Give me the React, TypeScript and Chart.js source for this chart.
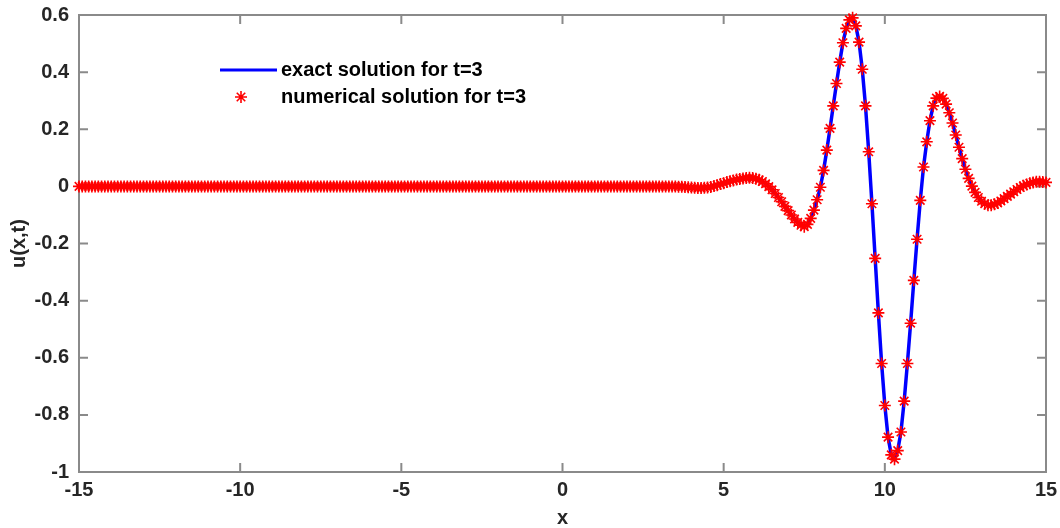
import { useEffect, useRef } from 'react';
import { Chart, registerables } from 'chart.js';

Chart.register(...registerables);

// sample positions x
const xValues = [
  -15, -14.9, -14.8, -14.7, -14.6, -14.5, -14.4, -14.3, -14.2, -14.1,
  -14, -13.9, -13.8, -13.7, -13.6, -13.5, -13.4, -13.3, -13.2, -13.1,
  -13, -12.9, -12.8, -12.7, -12.6, -12.5, -12.4, -12.3, -12.2, -12.1,
  -12, -11.9, -11.8, -11.7, -11.6, -11.5, -11.4, -11.3, -11.2, -11.1,
  -11, -10.9, -10.8, -10.7, -10.6, -10.5, -10.4, -10.3, -10.2, -10.1,
  -10, -9.9, -9.8, -9.7, -9.6, -9.5, -9.4, -9.3, -9.2, -9.1,
  -9, -8.9, -8.8, -8.7, -8.6, -8.5, -8.4, -8.3, -8.2, -8.1,
  -8, -7.9, -7.8, -7.7, -7.6, -7.5, -7.4, -7.3, -7.2, -7.1,
  -7, -6.9, -6.8, -6.7, -6.6, -6.5, -6.4, -6.3, -6.2, -6.1,
  -6, -5.9, -5.8, -5.7, -5.6, -5.5, -5.4, -5.3, -5.2, -5.1,
  -5, -4.9, -4.8, -4.7, -4.6, -4.5, -4.4, -4.3, -4.2, -4.1,
  -4, -3.9, -3.8, -3.7, -3.6, -3.5, -3.4, -3.3, -3.2, -3.1,
  -3, -2.9, -2.8, -2.7, -2.6, -2.5, -2.4, -2.3, -2.2, -2.1,
  -2, -1.9, -1.8, -1.7, -1.6, -1.5, -1.4, -1.3, -1.2, -1.1,
  -1, -0.9, -0.8, -0.7, -0.6, -0.5, -0.4, -0.3, -0.2, -0.1,
  0, 0.1, 0.2, 0.3, 0.4, 0.5, 0.6, 0.7, 0.8, 0.9,
  1, 1.1, 1.2, 1.3, 1.4, 1.5, 1.6, 1.7, 1.8, 1.9,
  2, 2.1, 2.2, 2.3, 2.4, 2.5, 2.6, 2.7, 2.8, 2.9,
  3, 3.1, 3.2, 3.3, 3.4, 3.5, 3.6, 3.7, 3.8, 3.9,
  4, 4.1, 4.2, 4.3, 4.4, 4.5, 4.6, 4.7, 4.8, 4.9,
  5, 5.1, 5.2, 5.3, 5.4, 5.5, 5.6, 5.7, 5.8, 5.9,
  6, 6.1, 6.2, 6.3, 6.4, 6.5, 6.6, 6.7, 6.8, 6.9,
  7, 7.1, 7.2, 7.3, 7.4, 7.5, 7.6, 7.7, 7.8, 7.9,
  8, 8.1, 8.2, 8.3, 8.4, 8.5, 8.6, 8.7, 8.8, 8.9,
  9, 9.1, 9.2, 9.3, 9.4, 9.5, 9.6, 9.7, 9.8, 9.9,
  10, 10.1, 10.2, 10.3, 10.4, 10.5, 10.6, 10.7, 10.8, 10.9,
  11, 11.1, 11.2, 11.3, 11.4, 11.5, 11.6, 11.7, 11.8, 11.9,
  12, 12.1, 12.2, 12.3, 12.4, 12.5, 12.6, 12.7, 12.8, 12.9,
  13, 13.1, 13.2, 13.3, 13.4, 13.5, 13.6, 13.7, 13.8, 13.9,
  14, 14.1, 14.2, 14.3, 14.4, 14.5, 14.6, 14.7, 14.8, 14.9,
  15,
];

// u(x,3) for x = -15 ... 3.4 (flat part)
const flatU = [
  0, 0, 0, 0, 0, 0, 0, 0, 0, 0,
  0, 0, 0, 0, 0, 0, 0, 0, 0, 0,
  0, 0, 0, 0, 0, 0, 0, 0, 0, 0,
  0, 0, 0, 0, 0, 0, 0, 0, 0, 0,
  0, 0, 0, 0, 0, 0, 0, 0, 0, 0,
  0, 0, 0, 0, 0, 0, 0, 0, 0, 0,
  0, 0, 0, 0, 0, 0, 0, 0, 0, 0,
  0, 0, 0, 0, 0, 0, 0, 0, 0, 0,
  0, 0, 0, 0, 0, 0, 0, 0, 0, 0,
  0, 0, 0, 0, 0, 0, 0, 0, 0, 0,
  0, 0, 0, 0, 0, 0, 0, 0, 0, 0,
  0, 0, 0, 0, 0, 0, 0, 0, 0, 0,
  0, 0, 0, 0, 0, 0, 0, 0, 0, 0,
  0, 0, 0, 0, 0, 0, 0, 0, 0, 0,
  0, 0, 0, 0, 0, 0, 0, 0, 0, 0,
  0, 0, 0, 0, 0, 0, 0, 0, 0, 0,
  0, 0, 0, 0, 0, 0, 0, 0, 0, 0,
  0, 0, 0, 0, 0, 0, 0, 0, 0, 0,
  0, 0, 0, 0, 0,
];

// u(x,3) for x = 3.5 ... 15 (wave packet)
const waveU = [
  0, -0.001, -0.001, -0.002, -0.003,
  -0.004, -0.005, -0.006, -0.006, -0.005, -0.004, -0.002, 0.001, 0.004, 0.008,
  0.011, 0.015, 0.018, 0.021, 0.024, 0.026, 0.028, 0.029, 0.03, 0.029,
  0.027, 0.023, 0.017, 0.009, -0.001, -0.012, -0.025, -0.039, -0.054, -0.07,
  -0.085, -0.1, -0.114, -0.126, -0.136, -0.141, -0.133, -0.112, -0.083, -0.047,
  -0.003, 0.056, 0.127, 0.203, 0.282, 0.36, 0.435, 0.503, 0.553, 0.583,
  0.59, 0.562, 0.505, 0.41, 0.282, 0.121, -0.061, -0.252, -0.443, -0.62,
  -0.767, -0.878, -0.94, -0.955, -0.925, -0.86, -0.752, -0.62, -0.479, -0.329,
  -0.185, -0.049, 0.068, 0.156, 0.23, 0.282, 0.309, 0.315, 0.308, 0.288,
  0.258, 0.222, 0.18, 0.137, 0.097, 0.06, 0.028, 0.001, -0.021, -0.039,
  -0.052, -0.061, -0.066, -0.066, -0.063, -0.058, -0.051, -0.043, -0.035, -0.027,
  -0.019, -0.011, -0.004, 0.002, 0.007, 0.011, 0.014, 0.016, 0.016, 0.015,
  0.014,
];

const exactU = flatU.concat(waveU);
const numericalU = flatU.concat(waveU);

const xTicks = [-15, -10, -5, 0, 5, 10, 15];
const yTicks = [-1, -0.8, -0.6, -0.4, -0.2, 0, 0.2, 0.4, 0.6];
const yTickLabels = ['-1', '-0.8', '-0.6', '-0.4', '-0.2', '0', '0.2', '0.4', '0.6'];
const legendLabels = ['exact solution for t=3', 'numerical solution for t=3'];
const axisTitles = { x: 'x', y: 'u(x,t)' };

const FONT = '"Liberation Sans", Arial, Helvetica, sans-serif';
const AXIS_COLOR = '#8a8a8a';
const TEXT_COLOR = '#262626';

export default function App() {
  const ref = useRef<HTMLCanvasElement | null>(null);

  useEffect(() => {
    document.body.style.margin = '0';
    const canvas = ref.current;
    if (!canvas) return;

    const numPts = xValues.map((x, i) => ({ x, y: numericalU[i] }));
    const exPts = xValues.map((x, i) => ({ x, y: exactU[i] }));

    const drawStar = (ctx: CanvasRenderingContext2D, cx: number, cy: number, r: number) => {
      ctx.beginPath();
      for (let k = 0; k < 4; k++) {
        const a = (k * Math.PI) / 4;
        ctx.moveTo(cx - r * Math.cos(a), cy - r * Math.sin(a));
        ctx.lineTo(cx + r * Math.cos(a), cy + r * Math.sin(a));
      }
      ctx.stroke();
    };

    const frame = {
      id: 'frame',
      beforeDatasetsDraw(chart: any) {
        const { ctx, chartArea: a, scales } = chart;
        ctx.save();
        ctx.strokeStyle = AXIS_COLOR;
        ctx.lineWidth = 2;
        ctx.strokeRect(a.left, a.top, a.right - a.left, a.bottom - a.top);
        const tl = 9;
        ctx.beginPath();
        xTicks.forEach((v) => {
          const px = scales.x.getPixelForValue(v);
          ctx.moveTo(px, a.bottom);
          ctx.lineTo(px, a.bottom - tl);
          ctx.moveTo(px, a.top);
          ctx.lineTo(px, a.top + tl);
        });
        yTicks.forEach((v) => {
          const py = scales.y.getPixelForValue(v);
          ctx.moveTo(a.left, py);
          ctx.lineTo(a.left + tl, py);
          ctx.moveTo(a.right, py);
          ctx.lineTo(a.right - tl, py);
        });
        ctx.stroke();
        ctx.restore();
      },
      afterDraw(chart: any) {
        const { ctx } = chart;
        ctx.save();
        // legend
        ctx.strokeStyle = '#0000ff';
        ctx.lineWidth = 3;
        ctx.beginPath();
        ctx.moveTo(220, 70);
        ctx.lineTo(277, 70);
        ctx.stroke();
        ctx.strokeStyle = '#ff0000';
        ctx.lineWidth = 1.6;
        drawStar(ctx, 241, 97, 6);
        ctx.fillStyle = '#000000';
        ctx.font = `bold 20px ${FONT}`;
        ctx.textAlign = 'left';
        ctx.textBaseline = 'middle';
        ctx.fillText(legendLabels[0], 281, 70);
        ctx.fillText(legendLabels[1], 281, 97);
        ctx.restore();
      },
    };

    const chart = new Chart(canvas, {
      type: 'scatter',
      data: {
        datasets: [
          {
            label: legendLabels[1],
            data: numPts,
            showLine: false,
            pointStyle: 'star',
            pointRadius: 6,
            pointHoverRadius: 6,
            pointBorderWidth: 1.6,
            borderColor: '#ff0000',
            backgroundColor: '#ff0000',
            clip: false,
          } as any,
          {
            label: legendLabels[0],
            data: exPts,
            showLine: true,
            borderColor: '#0000ff',
            backgroundColor: '#0000ff',
            borderWidth: 3.5,
            pointRadius: 0,
            pointHoverRadius: 0,
            tension: 0,
          } as any,
        ],
      },
      options: {
        responsive: false,
        animation: false,
        events: [],
        layout: { padding: { top: 15, right: 14, left: 0, bottom: 0 } },
        plugins: {
          legend: { display: false },
          tooltip: { enabled: false },
        },
        scales: {
          x: {
            type: 'linear',
            min: -15,
            max: 15,
            afterBuildTicks: (s: any) => {
              s.ticks = xTicks.map((v) => ({ value: v }));
            },
            afterFit: (s: any) => {
              s.height = 56;
              s.paddingLeft = 0;
              s.paddingRight = 0;
            },
            grid: { display: false, drawTicks: false },
            border: { display: false },
            ticks: {
              color: TEXT_COLOR,
              font: { family: FONT, size: 20, weight: 'bold' },
              padding: 6,
              maxRotation: 0,
              autoSkip: false,
              callback: (v: any) => String(v),
            },
            title: {
              display: true,
              text: axisTitles.x,
              color: TEXT_COLOR,
              font: { family: FONT, size: 20, weight: 'bold' },
              padding: { top: 0, bottom: -2 },
            },
          },
          y: {
            type: 'linear',
            min: -1,
            max: 0.6,
            afterBuildTicks: (s: any) => {
              s.ticks = yTicks.map((v) => ({ value: v }));
            },
            afterFit: (s: any) => {
              s.width = 79;
              s.paddingTop = 0;
              s.paddingBottom = 0;
            },
            grid: { display: false, drawTicks: false },
            border: { display: false },
            ticks: {
              color: TEXT_COLOR,
              font: { family: FONT, size: 20, weight: 'bold' },
              padding: 10,
              autoSkip: false,
              callback: (v: any) => {
                const i = yTicks.findIndex((t) => Math.abs(t - v) < 1e-9);
                return i >= 0 ? yTickLabels[i] : '';
              },
            },
            title: {
              display: true,
              text: axisTitles.y,
              color: TEXT_COLOR,
              font: { family: FONT, size: 20, weight: 'bold' },
              padding: { top: 7, bottom: 0 },
            },
          },
        },
      },
      plugins: [frame],
    } as any);

    return () => {
      chart.destroy();
    };
  }, []);

  return (
    <div style={{ position: 'fixed', left: 0, top: 0, width: 1060, height: 528 }}>
      <canvas ref={ref} width={1060} height={528} style={{ display: 'block' }} />
    </div>
  );
}
